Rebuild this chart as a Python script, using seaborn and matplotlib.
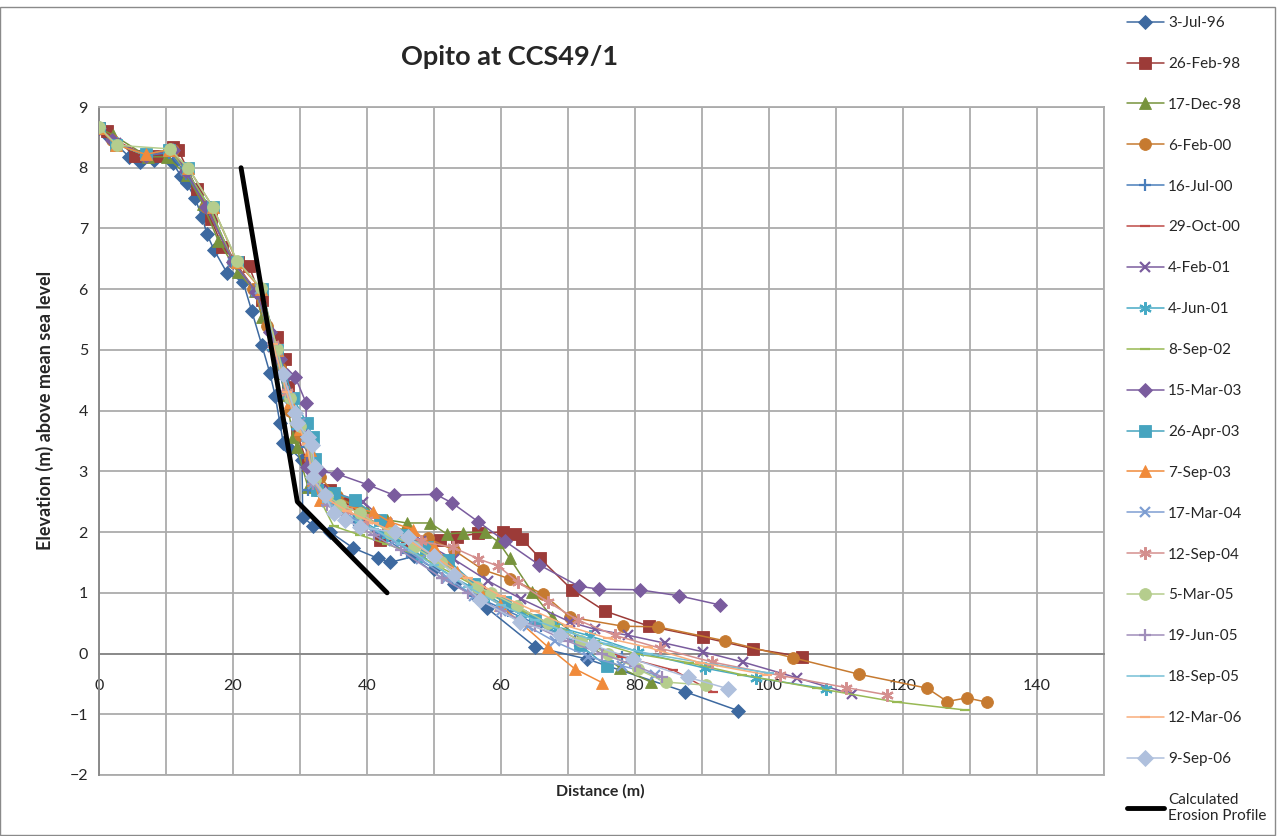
import matplotlib
matplotlib.use('Agg')
import matplotlib.pyplot as plt
import seaborn as sns
import pandas as pd
from matplotlib.ticker import MultipleLocator
from matplotlib.patches import Rectangle

sns.set_style('white')
plt.rcParams['font.family'] = ['Lato', 'DejaVu Sans']

# ---------------- data ----------------
x_3jul96 = [0, 1.5, 4.5, 6.1, 8.2, 11.0, 12.2, 13.1, 14.3, 15.4, 16.1, 17.2, 19.1, 21.5, 22.8, 24.3, 25.5, 26.3,
            27.0, 27.5, 28.5, 30.3, 30.4, 32.0, 34.5, 37.9, 41.6, 43.4, 47, 50, 53, 56.6, 57.9, 65.1, 72.8, 87.5, 95.4]
y_3jul96 = [8.65, 8.5, 8.18, 8.1, 8.13, 8.08, 7.87, 7.75, 7.5, 7.19, 6.91, 6.64, 6.27, 6.12, 5.64, 5.08, 4.62, 4.24,
            3.8, 3.47, 3.37, 3.19, 2.25, 2.1, 2.0, 1.74, 1.57, 1.5, 1.6, 1.4, 1.15, 0.92, 0.75, 0.11, -0.09, -0.63, -0.94]

x_26feb98 = [0, 1.2, 5.4, 8.7, 11.0, 11.8, 14.6, 16.7, 18.4, 20.7, 22.4, 24.3, 26.5, 27.8, 28.2, 29.5, 31.2, 32.0,
             34.5, 37.5, 41.9, 46, 50.9, 53.4, 56.6, 60.3, 62.1, 63.1, 65.8, 70.6, 75.5, 82.1, 90.1, 97.6, 104.9]
y_26feb98 = [8.65, 8.6, 8.19, 8.2, 8.34, 8.3, 7.65, 7.16, 6.7, 6.45, 6.38, 5.82, 5.21, 4.85, 4.39, 3.63, 3.1, 2.9,
             2.7, 2.48, 1.87, 1.85, 1.87, 1.92, 1.98, 2.0, 1.97, 1.89, 1.57, 1.05, 0.7, 0.45, 0.27, 0.08, -0.05]

x_17dec98 = [0, 2.1, 7.3, 10.1, 13.1, 15.5, 17.8, 20.7, 23.3, 24.3, 27.0, 27.8, 29.0, 29.5, 31.2, 33, 36, 40, 43,
             46, 49.4, 51.9, 54.3, 57.6, 59.6, 61.3, 64.6, 67.6, 77.8, 82.4]
y_17dec98 = [8.65, 8.54, 8.18, 8.18, 7.88, 7.4, 6.8, 6.28, 5.97, 5.54, 4.62, 4.26, 3.57, 3.4, 2.74, 2.7, 2.55, 2.35,
             2.2, 2.15, 2.15, 1.97, 1.99, 2.0, 1.84, 1.57, 1.02, 0.6, -0.24, -0.47]

x_6feb00 = [0, 2, 7, 11, 13, 16, 20, 23, 25, 27, 28.5, 30, 31.5, 33, 35.5, 39, 43, 46, 49.1, 53, 57.3, 61.3, 66.3,
            70.3, 78.2, 83.4, 93.4, 103.6, 113.4, 123.6, 126.6, 129.5, 132.5]
y_6feb00 = [8.65, 8.45, 8.2, 8.3, 7.95, 7.35, 6.45, 6.0, 5.4, 4.7, 4.0, 3.6, 3.2, 2.9, 2.6, 2.35, 2.15, 2.0, 1.9,
            1.7, 1.38, 1.23, 0.98, 0.6, 0.45, 0.44, 0.21, -0.07, -0.34, -0.57, -0.79, -0.73, -0.8]

x_16jul00 = [0, 2.5, 7, 10.5, 13, 16.5, 20, 23.5, 26, 28, 29.5, 31, 31.2, 34, 38, 42, 46, 51.2, 56, 61, 66, 71, 78]
y_16jul00 = [8.65, 8.4, 8.2, 8.25, 7.9, 7.3, 6.45, 5.95, 5.0, 4.2, 3.7, 3.4, 2.7, 2.5, 2.2, 1.95, 1.65, 1.24, 0.95,
             0.7, 0.45, 0.2, -0.05]

x_29oct00 = [0, 2.5, 7, 10.5, 13, 16.5, 20, 23.5, 26, 28, 29.5, 31.5, 32, 35, 39, 43, 47, 52, 57, 62, 67, 72, 78,
             85.7, 91.6]
y_29oct00 = [8.65, 8.45, 8.2, 8.3, 7.95, 7.3, 6.5, 5.95, 5.1, 4.3, 3.75, 3.4, 2.9, 2.55, 2.3, 2.05, 1.8, 1.45, 1.1,
             0.8, 0.5, 0.2, -0.05, -0.27, -0.63]

x_4feb01 = [0, 2.5, 7, 10.5, 13, 16.5, 20, 23.5, 26, 28, 29.5, 31.5, 32, 35, 39.4, 43, 48, 53, 58, 63, 70.3, 74, 79,
            84.5, 90.1, 96.1, 104.2, 112.4]
y_4feb01 = [8.65, 8.4, 8.2, 8.3, 7.95, 7.35, 6.45, 5.95, 5.05, 4.25, 3.75, 3.45, 2.9, 2.65, 2.5, 2.15, 1.85, 1.55,
            1.2, 0.9, 0.52, 0.4, 0.3, 0.17, 0.03, -0.14, -0.4, -0.67]

x_4jun01 = [0, 2.5, 7, 10.5, 13, 16.5, 20, 23.5, 26, 28, 29.5, 31.5, 32, 35, 39, 43, 48, 53, 58, 63, 68, 73.3, 80.4,
            90.4, 98, 108.5]
y_4jun01 = [8.65, 8.4, 8.2, 8.3, 7.95, 7.35, 6.45, 5.95, 5.05, 4.25, 3.75, 3.45, 2.8, 2.5, 2.2, 1.95, 1.6, 1.25,
            0.95, 0.65, 0.45, 0.29, 0.03, -0.24, -0.4, -0.58]

x_8sep02 = [0, 2.5, 7, 10.5, 13, 16.5, 20, 23.5, 26, 28, 29.5, 31.5, 32, 35, 39, 43, 48, 53, 58, 63, 68, 74, 80, 88,
            96, 107.1, 119.1, 129.3]
y_8sep02 = [8.65, 8.4, 8.2, 8.3, 7.95, 7.35, 6.45, 5.95, 5.05, 4.25, 3.75, 3.45, 2.75, 2.1, 1.95, 1.8, 1.6, 1.3,
            1.0, 0.7, 0.45, 0.2, 0.0, -0.15, -0.35, -0.57, -0.8, -0.93]

x_15mar03 = [0, 2, 7, 11, 13, 16, 20, 23.5, 25.5, 27, 28.1, 29.3, 30.9, 31.0, 33, 35.5, 40.1, 44.0, 50.3, 52.7,
             56.6, 60.6, 65.7, 71.6, 74.6, 80.7, 86.6, 92.7]
y_15mar03 = [8.65, 8.45, 8.2, 8.3, 7.95, 7.35, 6.45, 5.95, 5.3, 4.85, 4.59, 4.55, 4.13, 3.07, 3.0, 2.96, 2.78, 2.61,
             2.62, 2.48, 2.17, 1.85, 1.46, 1.11, 1.06, 1.05, 0.95, 0.8]

x_26apr03 = [0, 2.5, 7, 10.5, 13.3, 17, 20.6, 24.3, 26.6, 29, 31, 31.9, 32.3, 32.5, 35, 38.2, 42, 45.4, 49, 52.1,
             56, 60.6, 65, 71.8, 75.8]
y_26apr03 = [8.65, 8.38, 8.22, 8.3, 8.0, 7.35, 6.45, 6.0, 5.0, 4.2, 3.8, 3.57, 3.2, 2.7, 2.65, 2.53, 2.2, 1.95,
             1.75, 1.54, 1.15, 0.85, 0.55, 0.14, -0.21]

x_7sep03 = [0, 2.5, 7, 10.5, 13.3, 17, 20.6, 24.2, 26.6, 28.5, 30, 31.5, 32, 33, 36, 40.9, 43.4, 46.9, 50, 53.5,
            57, 59.9, 67, 71, 75.1]
y_7sep03 = [8.65, 8.38, 8.22, 8.3, 8.0, 7.35, 6.45, 6.0, 5.0, 4.15, 3.7, 3.35, 2.85, 2.53, 2.45, 2.33, 2.17, 2.04,
            1.75, 1.35, 1.0, 0.8, 0.11, -0.25, -0.48]

x_17mar04 = [24, 26.5, 28.5, 30, 31.5, 32, 34, 37, 40, 44, 48, 52, 56, 60, 64, 68, 73, 78, 83]
y_17mar04 = [6.0, 5.0, 4.2, 3.8, 3.5, 2.8, 2.5, 2.3, 2.1, 1.85, 1.55, 1.25, 0.95, 0.7, 0.45, 0.2, -0.05, -0.2, -0.35]

x_12sep04 = [26, 28, 29.5, 31, 32, 34, 37, 40, 44, 48, 52.8, 56.6, 59.6, 62.5, 67, 71.5, 77, 83.7, 91.5, 101.6,
             111.5, 117.6]
y_12sep04 = [5.1, 4.3, 3.8, 3.5, 2.9, 2.55, 2.35, 2.2, 2.0, 1.85, 1.75, 1.56, 1.44, 1.18, 0.85, 0.55, 0.3, 0.09,
             -0.14, -0.36, -0.56, -0.68]

x_5mar05 = [0, 2.7, 10.6, 13.3, 17.0, 20.6, 24.2, 26.6, 28.5, 30, 31.5, 32.2, 34, 36, 39, 43.4, 47, 51, 56.4, 58.5,
            62.4, 67, 72, 76, 80.4, 84.6, 90.6]
y_5mar05 = [8.67, 8.37, 8.31, 8.0, 7.35, 6.47, 6.02, 5.01, 4.2, 3.75, 3.45, 2.85, 2.6, 2.45, 2.31, 1.99, 1.75, 1.5,
            1.1, 1.0, 0.78, 0.5, 0.2, 0.0, -0.26, -0.47, -0.52]

x_19jun05 = [26, 28, 29.5, 31, 32, 34, 37, 41, 45, 51.2, 55, 60, 65, 70, 75, 80, 84]
y_19jun05 = [5.1, 4.3, 3.8, 3.5, 2.8, 2.45, 2.2, 1.95, 1.7, 1.24, 1.0, 0.7, 0.45, 0.2, 0.0, -0.2, -0.38]

x_18sep05 = [26, 28, 29.5, 31, 32, 34, 37, 41, 45, 50, 55, 60, 65, 70, 76, 82, 90, 100]
y_18sep05 = [5.1, 4.3, 3.8, 3.5, 2.85, 2.5, 2.25, 2.05, 1.8, 1.45, 1.1, 0.8, 0.55, 0.35, 0.15, 0.0, -0.15, -0.32]

x_12mar06 = [26, 28, 29.5, 31, 32, 34, 37, 41, 45, 50, 55, 60, 65, 70, 76, 82, 89.7, 99.7]
y_12mar06 = [5.1, 4.3, 3.8, 3.45, 2.85, 2.55, 2.35, 2.15, 1.95, 1.6, 1.25, 0.95, 0.7, 0.45, 0.25, 0.1, -0.15, -0.35]

x_9sep06 = [27.5, 29.3, 29.5, 31.2, 31.8, 32.2, 31.9, 33.7, 35, 36.7, 39, 44.2, 46.1, 50, 53, 56.9, 62.8, 68.8,
            73.7, 79.7, 87.9, 93.9]
y_9sep06 = [4.6, 3.96, 3.8, 3.57, 3.43, 3.07, 2.9, 2.61, 2.31, 2.2, 2.08, 2.0, 1.92, 1.6, 1.3, 0.88, 0.52, 0.31,
            0.14, -0.09, -0.39, -0.58]

x_erosion = [21.2, 29.6, 43.0]
y_erosion = [8.0, 2.5, 1.0]

labels = ['3-Jul-96', '26-Feb-98', '17-Dec-98', '6-Feb-00', '16-Jul-00', '29-Oct-00', '4-Feb-01', '4-Jun-01',
          '8-Sep-02', '15-Mar-03', '26-Apr-03', '7-Sep-03', '17-Mar-04', '12-Sep-04', '5-Mar-05', '19-Jun-05',
          '18-Sep-05', '12-Mar-06', '9-Sep-06']
xs = [x_3jul96, x_26feb98, x_17dec98, x_6feb00, x_16jul00, x_29oct00, x_4feb01, x_4jun01, x_8sep02, x_15mar03,
      x_26apr03, x_7sep03, x_17mar04, x_12sep04, x_5mar05, x_19jun05, x_18sep05, x_12mar06, x_9sep06]
ys = [y_3jul96, y_26feb98, y_17dec98, y_6feb00, y_16jul00, y_29oct00, y_4feb01, y_4jun01, y_8sep02, y_15mar03,
      y_26apr03, y_7sep03, y_17mar04, y_12sep04, y_5mar05, y_19jun05, y_18sep05, y_12mar06, y_9sep06]

# ---------------- styles ----------------
STAR = (6, 2, 0)
styles = [
    ('#3D69A0', 'D', 7), ('#9C3B38', 's', 8), ('#77933C', '^', 8.5), ('#C67A30', 'o', 8.5),
    ('#4A7EBB', '+', 8), ('#BE4B48', '_', 7), ('#7A5C9E', 'x', 7), ('#46AAC5', STAR, 9),
    ('#98B954', '_', 7), ('#7A5C9E', 'D', 7), ('#46A4BF', 's', 8), ('#F08A3A', '^', 8.5),
    ('#7E9ED2', 'x', 7), ('#D48F8E', STAR, 9), ('#B5CD8D', 'o', 8.5), ('#A08EBA', '+', 8),
    ('#77C0D6', '_', 7), ('#F9AE7C', '_', 7), ('#AFC0DD', 'D', 8),
]

W, H = 1282, 836
fig = plt.figure(figsize=(W / 100, H / 100), dpi=100)
ax = fig.add_axes([99 / W, 1 - 775 / H, (1104 - 99) / W, (775 - 107) / H])

for i, (lab, xv, yv, (col, mk, ms)) in enumerate(zip(labels, xs, ys, styles)):
    df = pd.DataFrame({'Distance': xv, 'Elevation': yv})
    unfilled = mk in ('+', 'x', '_', STAR)
    sns.lineplot(data=df, x='Distance', y='Elevation', sort=False, estimator=None, ax=ax,
                 color=col, marker=mk, markersize=ms, markeredgecolor=col,
                 markeredgewidth=(1.6 if unfilled else 0.6), linewidth=1.1, label=lab, zorder=3 + i)

df_e = pd.DataFrame({'Distance': x_erosion, 'Elevation': y_erosion})
sns.lineplot(data=df_e, x='Distance', y='Elevation', sort=False, estimator=None, ax=ax,
             color='black', linewidth=3.5, label='Calculated\nErosion Profile', zorder=30)

ax.set_xlim(0, 150)
ax.set_ylim(-2, 9)
ax.xaxis.set_major_locator(MultipleLocator(20))
ax.xaxis.set_minor_locator(MultipleLocator(10))
ax.yaxis.set_major_locator(MultipleLocator(1))
grid_c = '#ababab'
ax.grid(which='both', axis='x', color=grid_c, linewidth=1.3)
ax.grid(which='major', axis='y', color=grid_c, linewidth=1.3)
ax.axhline(-2, color=grid_c, linewidth=1.3, clip_on=False, zorder=1)

for s in ['top', 'right']:
    ax.spines[s].set_color(grid_c)
    ax.spines[s].set_linewidth(1.3)
ax.spines['left'].set_color('#8a8a8a')
ax.spines['left'].set_linewidth(1.4)
ax.spines['bottom'].set_position(('data', 0))
ax.spines['bottom'].set_color('#8a8a8a')
ax.spines['bottom'].set_linewidth(1.4)

ax.tick_params(axis='x', which='both', length=0, pad=18, labelsize=11.5)
ax.tick_params(axis='y', which='both', length=0, pad=8, labelsize=11.5)

ax.set_xlabel('Distance (m)', fontsize=11.5, fontweight='bold')
ax.xaxis.set_label_coords((600 - 99) / 1005, (775 - 784) / 668)
ax.set_ylabel('Elevation (m) above mean sea level', fontsize=13, fontweight='bold')
ax.yaxis.set_label_coords((54 - 99) / 1005, (775 - 410) / 668)

ax.text((510 - 99) / 1005, (775 - 57) / 668, 'Opito at CCS49/1', transform=ax.transAxes,
        ha='center', va='center', fontsize=19.5, fontweight='bold')

handles, labs = ax.get_legend_handles_labels()
if ax.get_legend() is not None:
    ax.get_legend().remove()
fig.legend(handles, labs, loc='upper left', bbox_to_anchor=(1127 / W, 1 - 16 / H),
           bbox_transform=fig.transFigure, frameon=False, fontsize=11, labelspacing=1.76,
           handlelength=2.4, handletextpad=0.3, borderpad=0, borderaxespad=0)

fig.patches.append(Rectangle((0, 1 / H), 1275 / W, 1 - 8 / H, transform=fig.transFigure,
                             fill=False, edgecolor='#8a8a8a', linewidth=1))

fig.savefig('out.png', dpi=100)
